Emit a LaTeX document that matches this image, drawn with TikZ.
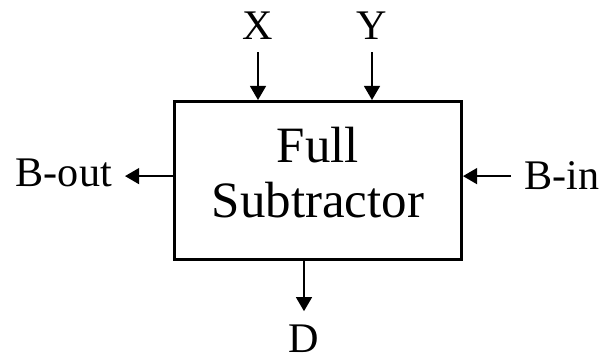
\documentclass[tikz,border=0pt]{standalone}
\usepackage{fontspec}
\setmainfont{Liberation Serif}
\usetikzlibrary{arrows.meta}

\begin{document}
\begin{tikzpicture}[x=0.02cm, y=-0.02cm,
    blk/.style={draw, line width=1.7pt, minimum width=5.74cm,
                minimum height=3.16cm, align=center, text depth=9.6pt,
                font=\fontsize{29}{31.2}\selectfont},
    lbl/.style={inner sep=0pt, outer sep=7.5pt, font=\fontsize{24}{28}\selectfont},
    arr/.style={-{Triangle[length=8pt, width=9pt]}, line width=1.1pt}
  ]
    \fill[white] (0,0) rectangle (602,359);
    \useasboundingbox (0,0) rectangle (602,359);

    \node[blk] (fs) at (318,180.5) {Full\\Subtractor};

    \node[lbl, anchor=base] (x) at (258,39) {X};
    \node[lbl, anchor=base] (y) at (372,39) {Y};
    \node[lbl, anchor=base] (d) at (304,352) {D};
    \node[lbl, anchor=base east] (bout) at (125,186) {B-out};
    \node[lbl, anchor=base west] (bin) at (511,189) {B-in};

    \draw[arr] (x) -- (x |- fs.north);
    \draw[arr] (y) -- (y |- fs.north);
    \draw[arr] (fs.south -| d) -- (d);
    \draw[arr] ([yshift=2.5pt]fs.west) -- ([yshift=2.5pt]fs.west -| bout.east);
    \draw[arr] ([yshift=2.5pt]fs.east -| bin.west) -- ([yshift=2.5pt]fs.east);
  \end{tikzpicture}
\end{document}
